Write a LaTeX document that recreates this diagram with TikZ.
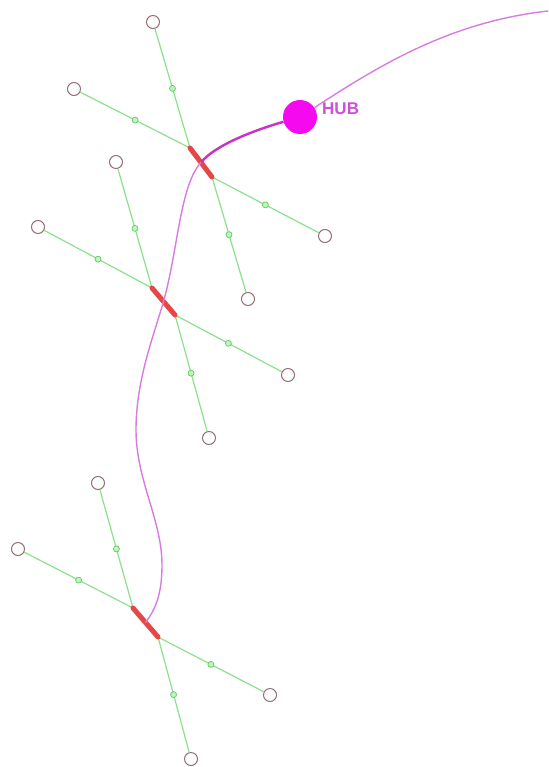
\documentclass[tikz,border=0pt]{standalone}
\usepackage{fontspec}
\setmainfont{Liberation Sans}
\definecolor{leafc}{RGB}{150,110,118}
\definecolor{branchc}{RGB}{140,225,140}
\definecolor{gdotc}{RGB}{100,200,100}
\definecolor{gdotf}{RGB}{190,245,190}
\definecolor{barc}{RGB}{230,70,70}
\definecolor{spinec}{RGB}{215,125,225}
\definecolor{spinedark}{RGB}{200,50,200}
\definecolor{hubc}{RGB}{245,10,240}
\definecolor{hubtext}{RGB}{205,80,215}
\tikzset{
  leaf/.style={circle, draw=leafc, line width=1pt, minimum size=13pt, inner sep=0pt, fill=white},
  gdot/.style={circle, draw=gdotc, fill=gdotf, minimum size=6pt, inner sep=0pt, line width=0.7pt},
  branch/.style={draw=branchc, line width=1.2pt},
  bar/.style={draw=barc, line width=5pt, line cap=round},
  spine/.style={draw=spinec, line width=1.4pt},
  spinethick/.style={draw=spinedark, line width=2.4pt},
  hubnode/.style={circle, fill=hubc, minimum size=34pt, inner sep=0pt},
  hublabel/.style={text=hubtext, font=\fontsize{17}{17}\selectfont\bfseries, inner sep=0pt}
}
\begin{document}
\begin{tikzpicture}[x=1pt,y=-1pt]
\useasboundingbox[fill=white] (0,0) rectangle (548,767);

% cluster 1
\coordinate (a1) at (190,148);
\coordinate (b1) at (212,177);
\coordinate (m1) at (201,162.5);
\node[leaf] (l1a) at (153,22) {};
\node[leaf] (l1b) at (74,89) {};
\node[leaf] (l1c) at (325,236) {};
\node[leaf] (l1d) at (248,299) {};
% cluster 2
\coordinate (a2) at (152,288);
\coordinate (b2) at (175,315);
\coordinate (m2) at (163.5,301.5);
\node[leaf] (l2a) at (116,162) {};
\node[leaf] (l2b) at (38,227) {};
\node[leaf] (l2c) at (288,375) {};
\node[leaf] (l2d) at (209,438) {};
% cluster 3
\coordinate (a3) at (133,608);
\coordinate (b3) at (158,637);
\coordinate (m3) at (145.5,622.5);
\node[leaf] (l3a) at (98,483) {};
\node[leaf] (l3b) at (18,549) {};
\node[leaf] (l3c) at (270,695) {};
\node[leaf] (l3d) at (191,759) {};

% branches
\foreach \k in {1,2,3}{
  \draw[branch] (a\k) -- node[gdot]{} (l\k a);
  \draw[branch] (a\k) -- node[gdot]{} (l\k b);
  \draw[branch] (b\k) -- node[gdot]{} (l\k c);
  \draw[branch] (b\k) -- node[gdot]{} (l\k d);
}

% bars
\draw[bar] (a1) -- (b1);
\draw[bar] (a2) -- (b2);
\draw[bar] (a3) -- (b3);

% hub
\node[hubnode] (hub) at (300,117) {};
\node[hublabel, anchor=base west] (hubl) at (322,114.5) {HUB};
\coordinate (top) at (548,11);
\coordinate (p) at (136,430);
\coordinate (q) at (162,565);

% spine
\draw[spine] (hub) .. controls (380,65) and (450,22) .. (top);
\draw[spinethick] (hub) .. controls (255,130) and (215,145) .. (m1);
\draw[spine] (m1) .. controls (180,185) and (178,250) .. (m2)
  .. controls (153.5,336.5) and (136,380) .. (p)
  .. controls (136,480) and (162,520) .. (q)
  .. controls (162,595) and (155,610) .. (m3);
\end{tikzpicture}
\end{document}
